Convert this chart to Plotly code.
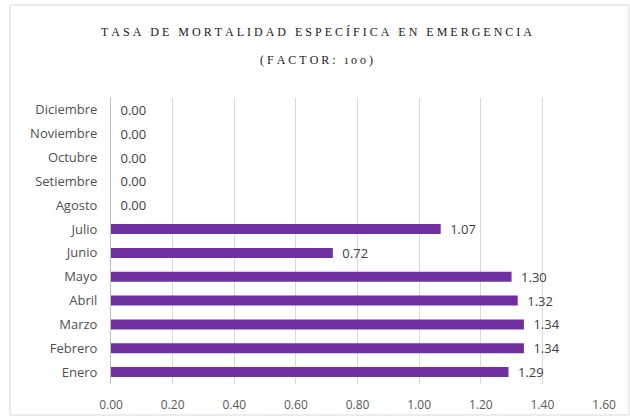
import plotly.graph_objects as go

months = ["Enero", "Febrero", "Marzo", "Abril", "Mayo", "Junio", "Julio",
          "Agosto", "Setiembre", "Octubre", "Noviembre", "Diciembre"]
values = [1.29, 1.34, 1.34, 1.32, 1.30, 0.72, 1.07, 0.00, 0.00, 0.00, 0.00, 0.00]
x_ticks = [0.0, 0.2, 0.4, 0.6, 0.8, 1.0, 1.2, 1.4, 1.6]
title_1 = "TASA DE MORTALIDAD ESPECÍFICA EN EMERGENCIA"
title_2 = "(FACTOR: ıoo)"

W, H = 630, 418
L, R, T, B = 111, 26, 98, 34
pw, ph = W - L - R, H - T - B

SP = "\u2005"


def spaced(s):
    words = s.split(" ")
    return (SP * 3).join(SP.join(w) for w in words)


fig = go.Figure(go.Bar(
    y=months, x=values, orientation="h",
    marker=dict(color="#7030A0", line=dict(width=0)),
    text=["\u2002" + f"{v:.2f}" for v in values], textposition="outside",
    constraintext="none",
    textfont=dict(family="Open Sans, sans-serif", size=13, color="#404040"),
    cliponaxis=False,
    hoverinfo="skip",
))


def px_x(p):
    return (p - L) / pw


def px_y(p):
    return (H - B - p) / ph


fig.update_layout(
    width=W, height=H,
    margin=dict(l=L, r=R, t=T, b=B, autoexpand=False),
    paper_bgcolor="white", plot_bgcolor="white",
    bargap=0.58,
    showlegend=False,
    font=dict(family="Open Sans, sans-serif", size=12, color="#595959"),
    xaxis=dict(range=[0, 1.6], tickvals=x_ticks, tickformat=".2f",
               showgrid=True, gridcolor="#d9d9d9", gridwidth=1,
               zeroline=False, showline=False, ticks="",
               ticklabelstandoff=12, automargin=False,
               tickfont=dict(size=12, color="#595959")),
    yaxis=dict(showgrid=False, showline=True, linecolor="#bfbfbf", linewidth=1,
               ticks="", ticklabelstandoff=10, automargin=False,
               tickfont=dict(size=13, color="#505050")),
    shapes=[dict(type="rect", xref="paper", yref="paper",
                 x0=px_x(10), x1=px_x(629), y0=px_y(415), y1=px_y(5),
                 line=dict(color="#d9d9d9", width=1))],
    annotations=[
        dict(text=spaced(title_1),
             xref="paper", yref="paper", x=px_x(316), y=px_y(32),
             showarrow=False, xanchor="center", yanchor="middle",
             font=dict(family="Liberation Serif, DejaVu Serif, serif", size=12, color="#1a1a1a")),
        dict(text=spaced(title_2),
             xref="paper", yref="paper", x=px_x(316), y=px_y(60),
             showarrow=False, xanchor="center", yanchor="middle",
             font=dict(family="Liberation Serif, DejaVu Serif, serif", size=12, color="#1a1a1a")),
    ],
)

fig.write_html("out.html", config={"displayModeBar": False},
               post_script="document.body.style.margin='0';")
